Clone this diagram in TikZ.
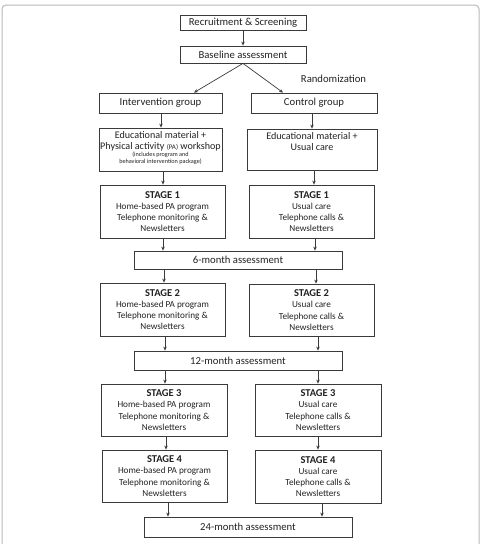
\documentclass[tikz,border=0pt]{standalone}
\usepackage{fontspec}
\setmainfont{Carlito}
\usetikzlibrary{arrows.meta}
\definecolor{boxgray}{HTML}{3A3A3A}
\definecolor{textgray}{HTML}{222222}
\definecolor{framegray}{HTML}{B8B8B8}
\newcommand\myvarr[3]{\path (#1.south) ++(#2,0) coordinate (tmpa); \draw[arr] (tmpa) -- (tmpa |- #3.north);}
\newcommand\stagehead[1]{{\fontsize{10.5}{12}\selectfont\bfseries #1}}
\begin{document}
\begin{tikzpicture}[x=1pt,y=-1pt,
  box/.style={draw=boxgray,line width=0.8pt,inner sep=0pt,align=center,
    font=\fontsize{10.7}{12.5}\selectfont,text=textgray},
  stagebox/.style={box,font=\fontsize{9.2}{11.2}\selectfont},
  arr/.style={draw=boxgray,line width=0.7pt,-{Stealth[length=4pt,width=3.5pt]}},
  frame/.style={draw=framegray,line width=1pt,rounded corners=4pt},
  lbl/.style={font=\fontsize{10.7}{12.5}\selectfont,text=textgray,inner sep=0pt}
]
\useasboundingbox (0,0) rectangle (482,544);
\draw[frame] (2,5) rectangle (479,570);

\node[box,minimum width=126,minimum height=15] (rec) at (243,22.5) {Recruitment \& Screening};
\node[box,minimum width=126,minimum height=17] (base) at (243,54.5) {Baseline assessment};
\node[lbl] (rand) at (333.5,79) {Randomization};
\node[box,minimum width=123,minimum height=20] (ig) at (160.5,103) {Intervention group};
\node[box,minimum width=126,minimum height=20] (cg) at (314,103) {Control group};
\node[box,minimum width=123,minimum height=43] (edui) at (160.5,149.5)
  {\parbox[c][43pt][t]{123pt}{\centering\fontsize{10.1}{11.5}\selectfont\vspace*{3pt}Educational material +\par
   Physical activity {\fontsize{7}{8}\selectfont(PA)} workshop\par
   \fontsize{6.2}{7}\selectfont(includes program and\par behavioral intervention package)}};
\node[box,minimum width=130,minimum height=41] (educ) at (312,149.5)
  {\parbox[c][41pt][t]{130pt}{\centering\fontsize{10.1}{11.8}\selectfont\vspace*{3pt}Educational material +\par Usual care}};

\node[stagebox,minimum width=125,minimum height=53] (s1i) at (162.5,211.5)
  {\stagehead{STAGE 1}\\Home-based PA program\\Telephone monitoring \&\\Newsletters};
\node[stagebox,minimum width=125,minimum height=53] (s1c) at (311.5,211.5)
  {\stagehead{STAGE 1}\\Usual care\\Telephone calls \&\\Newsletters};
\node[box,minimum width=208,minimum height=18] (m6) at (238,260) {6-month assessment};

\node[stagebox,minimum width=125,minimum height=53] (s2i) at (162.5,309.5)
  {\stagehead{STAGE 2}\\Home-based PA program\\Telephone monitoring \&\\Newsletters};
\node[stagebox,minimum width=125,minimum height=52] (s2c) at (311.5,310)
  {\stagehead{STAGE 2}\\Usual care\\Telephone calls \&\\Newsletters};
\node[box,minimum width=208,minimum height=19] (m12) at (238,360.5) {12-month assessment};

\node[stagebox,minimum width=126,minimum height=52] (s3i) at (164,410)
  {\stagehead{STAGE 3}\\Home-based PA program\\Telephone monitoring \&\\Newsletters};
\node[stagebox,minimum width=126,minimum height=52] (s3c) at (318,410)
  {\stagehead{STAGE 3}\\Usual care\\Telephone calls \&\\Newsletters};
\node[stagebox,minimum width=125,minimum height=52] (s4i) at (164.5,476)
  {\stagehead{STAGE 4}\\Home-based PA program\\Telephone monitoring \&\\Newsletters};
\node[stagebox,minimum width=126,minimum height=53] (s4c) at (318,476.5)
  {\stagehead{STAGE 4}\\Usual care\\Telephone calls \&\\Newsletters};
\node[box,minimum width=208,minimum height=20] (m24) at (248,527) {24-month assessment};

% arrows
\myvarr{rec}{0}{base}
\path (ig.north) ++(33.5,0) coordinate (ta);
\path (cg.north) ++(-31,0) coordinate (tb);
\draw[arr] (base.south) -- (ta);
\draw[arr] (base.south) -- (tb);
\myvarr{ig}{0.5}{edui}
\myvarr{cg}{-2}{educ}
\myvarr{edui}{2.5}{s1i}
\myvarr{educ}{2}{s1c}
\myvarr{s1i}{0.5}{m6}
\myvarr{s1c}{3.5}{m6}
\myvarr{m6}{-74}{s2i}
\myvarr{m6}{78}{s2c}
\myvarr{s2i}{2.5}{m12}
\myvarr{s2c}{6.5}{m12}
\myvarr{m12}{-73}{s3i}
\myvarr{m12}{80}{s3c}
\myvarr{s3i}{2}{s4i}
\myvarr{s3c}{0}{s4c}
\myvarr{s4i}{3.5}{m24}
\myvarr{s4c}{4}{m24}
\end{tikzpicture}
\end{document}
